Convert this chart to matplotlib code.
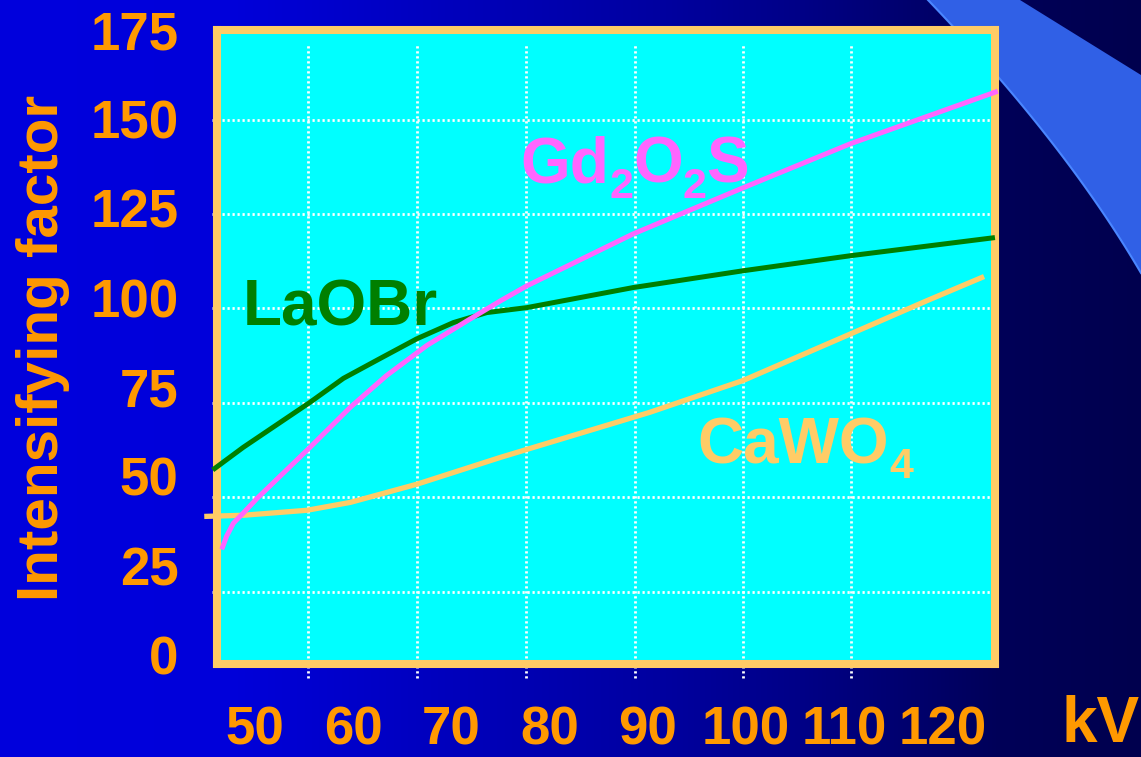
import numpy as np
import matplotlib
matplotlib.use("Agg")
import matplotlib.pyplot as plt
from matplotlib.patches import Polygon

plt.rcParams['font.family'] = ['Liberation Sans', 'DejaVu Sans']
plt.rcParams['font.weight'] = 'bold'

# intensifying factor vs tube voltage
laobr_kv = [45.9, 48.8, 55.6, 59.0, 62.7, 66.5, 70.2, 73.6, 77.7, 88.5, 99.7, 110.6, 125.1]
laobr_if = [52.2, 58.1, 70.7, 77.4, 82.9, 88.5, 93.0, 95.8, 97.2, 102.8, 107.5, 111.7, 116.7]

gd_kv = [46.7, 47.1, 47.8, 48.8, 50.2, 55.6, 59.7, 63.4, 67.5, 71.6, 75.0, 77.7, 88.5, 99.7, 110.6, 125.4]
gd_if = [30.2, 33.2, 36.9, 39.7, 43.8, 58.1, 69.3, 78.2, 86.6, 93.5, 99.1, 103.3, 117.8, 130.7, 143.0, 157.5]

cawo_kv = [45.1, 48.8, 55.3, 59.7, 66.5, 75.0, 90.2, 99.7, 110.7, 118.4, 124.0]
cawo_if = [38.8, 39.1, 40.5, 42.7, 47.8, 55.3, 67.9, 76.8, 89.9, 99.1, 105.6]

x_ticks = [50, 60, 70, 80, 90, 100, 110, 120]
y_ticks = [0, 25, 50, 75, 100, 125, 150, 175]

# the dotted grid of the slide does not sit on the tick values
grid_x = [55.4, 66.5, 77.6, 88.7, 99.7, 110.7]
grid_y = [17.6, 44.1, 70.5, 97.0, 123.5, 149.8]

ORANGE = '#FF9900'
PALE = '#FFCC66'
GREEN = '#007F00'
PINK = '#FF66FF'

W, H = 1141, 757
fig = plt.figure(figsize=(W / 100, H / 100), dpi=100)

# slide background: blue gradient plus the lighter swoosh in the corner
bg = fig.add_axes([0, 0, 1, 1], zorder=-10)
cols = np.arange(W)
blue = np.interp(cols, [0, 230, 660, 800, 1000, 1141], [221, 218, 160, 135, 88, 78]) / 255
img = np.zeros((1, W, 3))
img[0, :, 2] = blue
bg.imshow(img, extent=[0, W, H, 0], aspect='auto', interpolation='bilinear')
t = np.linspace(0, 1, 40)[:, None]
p0, c, p2 = np.array([928, 0]), np.array([1065, 143]), np.array([1141, 273])
edge = (1 - t) ** 2 * p0 + 2 * t * (1 - t) * c + t ** 2 * p2
outline = np.vstack([[[1020, 0], [1141, 75]], edge[::-1]])
bg.add_patch(Polygon(outline, closed=True, facecolor='#3060E6', edgecolor='none'))
bg.plot(edge[:, 0], edge[:, 1], color='#4A86FF', lw=1.5)
bg.set_xlim(0, W)
bg.set_ylim(H, 0)
bg.axis('off')

ax = fig.add_axes([0.19062, 0.12285, 0.68186, 0.83818])
ax.set_facecolor('#00FFFF')
ax.set_xlim(46.18, 125.41)
ax.set_ylim(-2.51, 174.67)

for s in ax.spines.values():
    s.set_color(PALE)
    s.set_linewidth(5.8)

ax.set_xticks(x_ticks)
ax.set_yticks(y_ticks)
ax.tick_params(axis='both', length=0, labelsize=38, labelcolor=ORANGE)
ax.tick_params(axis='y', pad=28)
ax.tick_params(axis='x', pad=30)

dots = (0, (0.8, 1.0))
ax.hlines(grid_y, 45.6, 125.0, colors='white', lw=2.0, linestyles=dots,
          zorder=1.5, clip_on=False)
ax.vlines(grid_x, -6.4, 170.9, colors='white', lw=2.0, linestyles=dots,
          zorder=1.5, clip_on=False)

ax.plot(cawo_kv, cawo_if, color=PALE, lw=3.8, zorder=3, clip_on=False)
ax.plot(laobr_kv, laobr_if, color=GREEN, lw=3.6, zorder=3, clip_on=False)
ax.plot(gd_kv, gd_if, color=PINK, lw=3.6, zorder=3, clip_on=False)

renderer = fig.canvas.get_renderer()


def formula(x, y, parts, color, size=46, sub_size=31, drop=15):
    # write a chemical formula piece by piece, digits lowered as subscripts
    px, py = ax.transData.transform((x, y))
    for txt in parts:
        sub = txt.isdigit()
        t = fig.text(px / W, (py - drop * sub) / H, txt, color=color,
                     fontsize=sub_size if sub else size, ha='left', va='baseline')
        px = t.get_window_extent(renderer).x1


formula(48.8, 92.2, ['LaOBr'], GREEN)
formula(77.0, 132.1, ['Gd', '2', 'O', '2', 'S'], PINK)
formula(95.1, 53.6, ['CaWO', '4'], PALE)

fig.text(0.038, 0.540, 'Intensifying factor', rotation=90, ha='center', va='center',
         fontsize=42, color=ORANGE)
fig.text(1101 / W, 0.002, 'kV', ha='center', va='bottom', fontsize=46, color=ORANGE)

fig.savefig('out.png', dpi=100)
